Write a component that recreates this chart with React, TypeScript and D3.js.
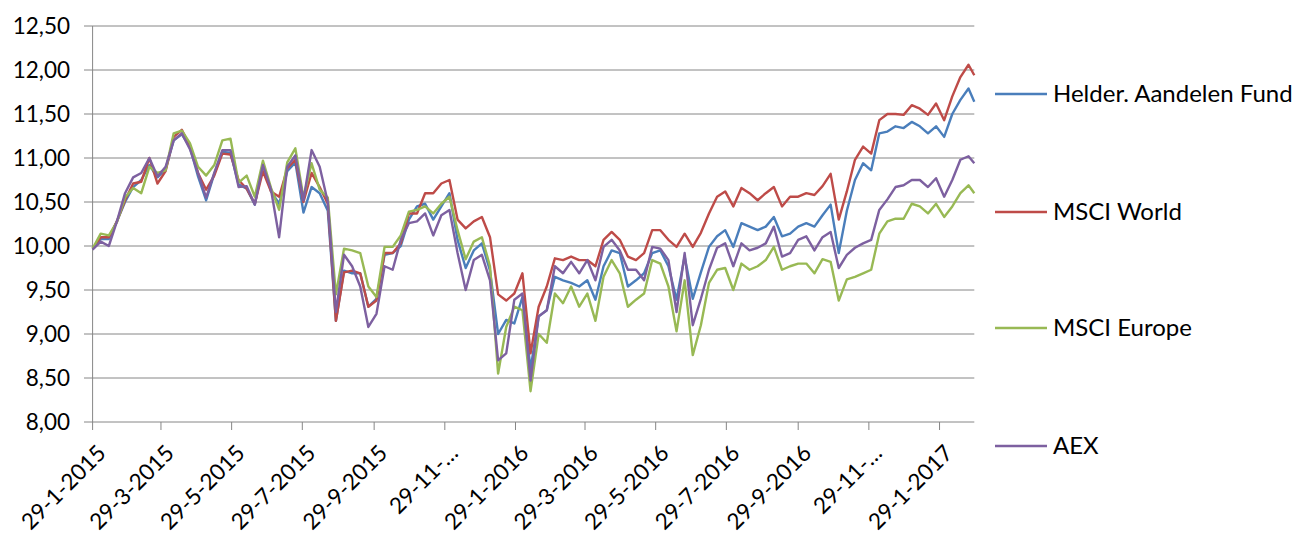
import React from "react";
import * as d3 from "d3";

// weekly readings from 29-1-2015, last value is the end of the range (28-2-2017)
const helder = [
  9.97, 10.08, 10.08, 10.28, 10.5, 10.67, 10.75, 10.92, 10.78, 10.87,
  11.2, 11.27, 11.12, 10.79, 10.52, 10.82, 11.07, 11.06, 10.7, 10.65,
  10.47, 10.94, 10.62, 10.48, 10.85, 10.95, 10.38, 10.67, 10.6, 10.4,
  9.15, 9.72, 9.69, 9.69, 9.31, 9.4, 9.9, 9.92, 10.0, 10.3,
  10.45, 10.48, 10.3, 10.45, 10.6, 10.07, 9.75, 9.95, 10.03, 9.72,
  9.0, 9.16, 9.12, 9.42, 8.6, 9.2, 9.27, 9.65, 9.61, 9.58,
  9.54, 9.61, 9.39, 9.77, 9.95, 9.92, 9.54, 9.61, 9.69, 9.92,
  9.95, 9.77, 9.39, 9.88, 9.4, 9.7, 9.99, 10.11, 10.18, 9.99,
  10.26, 10.22, 10.18, 10.22, 10.33, 10.11, 10.14, 10.22, 10.26, 10.22,
  10.35, 10.47, 9.92, 10.4, 10.75, 10.94, 10.86, 11.28, 11.3, 11.36,
  11.34, 11.41, 11.36, 11.28, 11.36, 11.24, 11.5, 11.66, 11.79, 11.64,
];
const msciWorld = [
  9.97, 10.1, 10.1, 10.28, 10.52, 10.71, 10.73, 11.0, 10.71, 10.85,
  11.24, 11.32, 11.14, 10.83, 10.64, 10.8, 11.05, 11.04, 10.75, 10.65,
  10.48, 10.85, 10.62, 10.56, 10.88, 10.98, 10.5, 10.83, 10.67, 10.48,
  9.15, 9.7, 9.72, 9.69, 9.31, 9.38, 9.92, 9.92, 10.03, 10.37,
  10.37, 10.6, 10.6, 10.71, 10.75, 10.3, 10.2, 10.28, 10.33, 10.1,
  9.45, 9.38, 9.46, 9.69, 8.78, 9.31, 9.54, 9.86, 9.84, 9.88,
  9.84, 9.84, 9.77, 10.07, 10.16, 10.07, 9.88, 9.84, 9.92, 10.18,
  10.18, 10.07, 9.99, 10.14, 9.99, 10.15, 10.37, 10.56, 10.62, 10.45,
  10.66, 10.6, 10.52, 10.6, 10.67, 10.45, 10.56, 10.56, 10.6, 10.58,
  10.68, 10.82, 10.3, 10.62, 10.98, 11.13, 11.05, 11.43, 11.5, 11.5,
  11.49, 11.6, 11.56, 11.49, 11.62, 11.43, 11.7, 11.92, 12.06, 11.94,
];
const msciEurope = [
  9.97, 10.14, 10.12, 10.27, 10.55, 10.66, 10.6, 10.9, 10.83, 10.86,
  11.28, 11.31, 11.17, 10.9, 10.8, 10.92, 11.2, 11.22, 10.72, 10.8,
  10.56, 10.97, 10.66, 10.41, 10.95, 11.11, 10.55, 10.94, 10.64, 10.55,
  9.45, 9.97, 9.95, 9.92, 9.54, 9.42, 9.99, 9.99, 10.12, 10.39,
  10.41, 10.45, 10.37, 10.48, 10.56, 10.18, 9.85, 10.05, 10.1, 9.77,
  8.55, 9.08, 9.31, 9.27, 8.35, 9.0, 8.9, 9.46, 9.35, 9.54,
  9.31, 9.46, 9.15, 9.65, 9.84, 9.69, 9.31, 9.39, 9.46, 9.84,
  9.8, 9.54, 9.03, 9.61, 8.76, 9.1, 9.58, 9.73, 9.75, 9.5,
  9.8, 9.73, 9.77, 9.84, 9.99, 9.73, 9.77, 9.8, 9.8, 9.69,
  9.85, 9.82, 9.38, 9.62, 9.65, 9.69, 9.73, 10.14, 10.28, 10.31,
  10.31, 10.48, 10.45, 10.37, 10.48, 10.33, 10.45, 10.6, 10.69, 10.6,
];
const aex = [
  9.96, 10.05, 10.0, 10.28, 10.6, 10.78, 10.83, 11.0, 10.79, 10.9,
  11.2, 11.28, 11.1, 10.83, 10.55, 10.83, 11.09, 11.09, 10.67, 10.68,
  10.47, 10.92, 10.64, 10.1, 10.9, 11.03, 10.52, 11.09, 10.9, 10.5,
  9.25, 9.9, 9.77, 9.54, 9.08, 9.23, 9.77, 9.73, 10.07, 10.26,
  10.28, 10.37, 10.12, 10.35, 10.41, 9.92, 9.5, 9.84, 9.9, 9.61,
  8.7, 8.78, 9.39, 9.46, 8.47, 9.2, 9.27, 9.77, 9.69, 9.82,
  9.69, 9.84, 9.61, 9.99, 10.07, 9.95, 9.73, 9.73, 9.61, 9.99,
  9.97, 9.84, 9.25, 9.92, 9.1, 9.4, 9.73, 9.98, 10.03, 9.77,
  10.03, 9.95, 9.98, 10.03, 10.22, 9.88, 9.92, 10.07, 10.11, 9.95,
  10.1, 10.16, 9.75, 9.9, 9.98, 10.03, 10.07, 10.41, 10.53, 10.67,
  10.69, 10.75, 10.75, 10.67, 10.77, 10.56, 10.75, 10.98, 11.02, 10.94,
];

const seriesNames = ["Helder. Aandelen Fund", "MSCI World", "MSCI Europe", "AEX"];
const seriesColors = ["#4A7EBB", "#BE4B48", "#98B954", "#7D60A0"];
const seriesValues = [helder, msciWorld, msciEurope, aex];

const tickLabels = [
  "29-1-2015", "29-3-2015", "29-5-2015", "29-7-2015", "29-9-2015", "29-11-…",
  "29-1-2016", "29-3-2016", "29-5-2016", "29-7-2016", "29-9-2016", "29-11-…",
  "29-1-2017",
];
const yTicks = [8, 8.5, 9, 9.5, 10, 10.5, 11, 11.5, 12, 12.5];

const startDate = new Date(2015, 0, 29);
const endDate = new Date(2017, 1, 28);

const font = "Lato, 'Open Sans', sans-serif";
const gridColor = "#868686";

const App = () => {
  const n = helder.length;
  const dates = helder.map((_, i) =>
    i === n - 1 ? endDate : d3.timeDay.offset(startDate, 7 * i),
  );
  const tickDates = tickLabels.map((_, i) => d3.timeMonth.offset(startDate, 2 * i));

  const x = d3.scaleTime().domain([startDate, endDate]).range([92.6, 974.3]);
  const y = d3.scaleLinear().domain([8, 12.5]).range([422, 26]);

  const line = d3
    .line<number>()
    .x((_, i) => x(dates[i]))
    .y((d) => y(d));

  const fmt = (v: number) => d3.format(".2f")(v).replace(".", ",");
  const legendY = [94, 212, 328, 446];

  return (
    <svg
      width={1315}
      height={536}
      style={{ position: "absolute", left: 0, top: 0, background: "#fff" }}
      fontFamily={font}
    >
      {yTicks.map((t) => (
        <g key={t}>
          <line x1={84} x2={974.3} y1={y(t)} y2={y(t)} stroke={gridColor} strokeWidth={1} />
          <text x={70} y={y(t)} dy="0.35em" textAnchor="end" fontSize={22.5} fill="#000">
            {fmt(t)}
          </text>
        </g>
      ))}
      <line x1={92.6} x2={92.6} y1={y(12.5)} y2={y(8)} stroke={gridColor} strokeWidth={1} />
      {tickDates.map((d, i) => (
        <g key={i} transform={`translate(${x(d)},0)`}>
          <line y1={422} y2={430} stroke={gridColor} strokeWidth={1} />
          <text
            transform={`translate(9,449) rotate(-45)`}
            dy="0.35em"
            textAnchor="end"
            fontSize={22.5}
            fill="#000"
          >
            {tickLabels[i]}
          </text>
        </g>
      ))}
      {seriesValues.map((vals, i) => (
        <path
          key={seriesNames[i]}
          d={line(vals) ?? ""}
          fill="none"
          stroke={seriesColors[i]}
          strokeWidth={2.4}
          strokeLinejoin="round"
        />
      ))}
      {seriesNames.map((name, i) => (
        <g key={name}>
          <line x1={995} x2={1047} y1={legendY[i]} y2={legendY[i]} stroke={seriesColors[i]} strokeWidth={2.4} />
          <text x={1053} y={legendY[i]} dy="0.35em" fontSize={24} fill="#000">
            {name}
          </text>
        </g>
      ))}
    </svg>
  );
};

export default App;
